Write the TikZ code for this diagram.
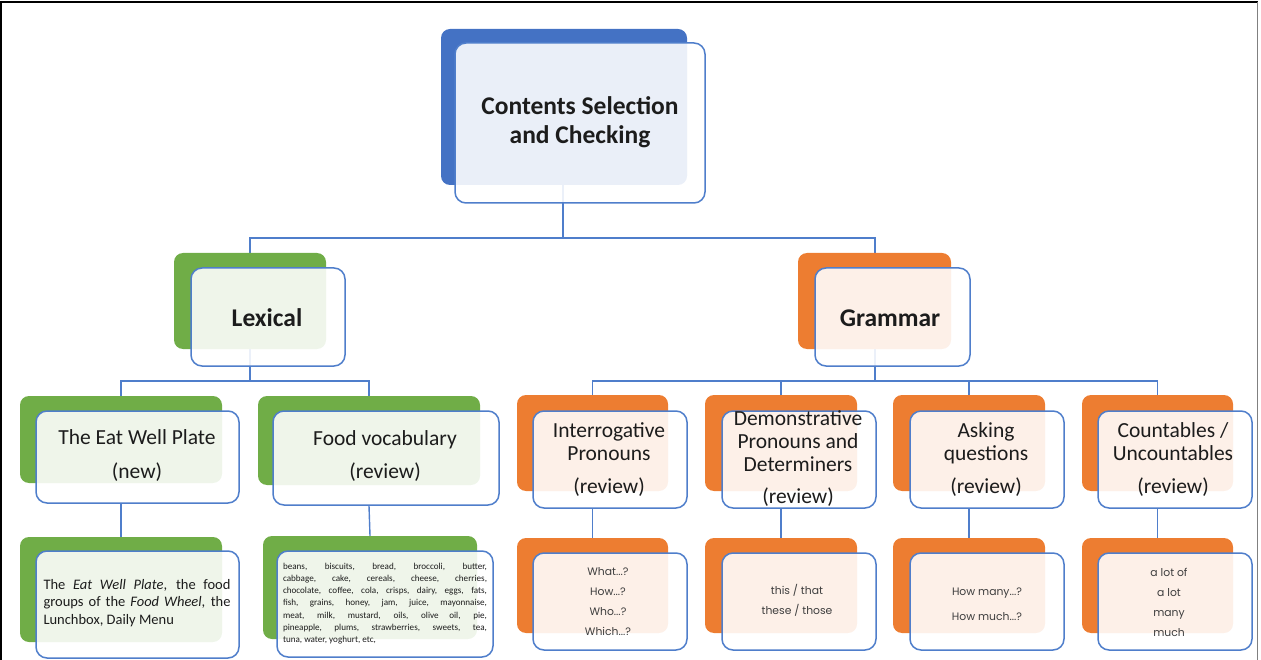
\documentclass[tikz,border=0pt]{standalone}
\usepackage{fontspec}
\setmainfont{Carlito}
\newfontfamily\geofont{Poppins}
\usetikzlibrary{fit}

\definecolor{cblue}{HTML}{4472C4}
\definecolor{cgreen}{HTML}{70AD47}
\definecolor{corange}{HTML}{ED7D31}
\definecolor{edge}{HTML}{4F7ECB}
\definecolor{ink}{HTML}{1C1C1C}
\definecolor{grayink}{HTML}{3E3E3E}

\tikzset{
  backbox/.style={rounded corners=9pt, inner sep=0pt, draw=none},
  frontbox/.style={rounded corners=11pt, inner sep=0pt, draw=edge, line width=1.5pt,
                   fill=white, fill opacity=0.89},
  wire/.style={draw=edge, line width=1.4pt},
  headtext/.style={font=\bfseries\fontsize{25.5}{29}\selectfont, text=ink, align=center, inner sep=0pt},
  midtext/.style={font=\fontsize{21.5}{23}\selectfont, text=ink, align=center, inner sep=0pt},
  smalltext/.style={font=\geofont\fontsize{10.8}{20}\selectfont, text=grayink, align=center, inner sep=0pt},
}

% #1 name, #2 colour of the back card, #3 back corners, #4 front corners
\newcommand\cardpair[4]{%
  \node[backbox, fill=#2, fit={#3}] (#1B) {};
  \node[frontbox, fit={#4}] (#1) {};
}

\begin{document}
\begin{tikzpicture}[x=1pt, y=-1pt]
\useasboundingbox (0,0) rectangle (1261,660);

% outer frame
\draw[black, line width=1.8pt] (1.2,670) -- (1.2,2) -- (1257.5,2);
\draw[gray, line width=1.4pt] (1257.5,2) -- (1257.5,670);

% bus junctions
\coordinate (j1) at (563,238);
\coordinate (j2) at (250,381);
\coordinate (j3) at (875,381);

% connectors (drawn first, the cards sit on top)
\draw[wire] (563,185) -- (j1) -| (250,253);
\draw[wire] (j1) -| (875,253);
\draw[wire] (250,349) -- (j2) -| (121,396);
\draw[wire] (j2) -| (369,396);
\draw[wire] (875,349) -- (j3) -| (592.5,395);
\draw[wire] (j3) -| (781,395);
\draw[wire] (j3) -| (969,395);
\draw[wire] (j3) -| (1157.5,395);

% root
\cardpair{root}{cblue}{(441,29) (687,185)}{(455,43) (705,203)}
% second level
\cardpair{lex}{cgreen}{(174,253) (326,349)}{(191,268) (345,366)}
\cardpair{gra}{corange}{(798,253) (951,349)}{(815,268) (970,366)}
% third level
\cardpair{ewp}{cgreen}{(20,396) (222,483)}{(36,411) (239,503)}
\cardpair{fv}{cgreen}{(258,396) (480,485)}{(273,411) (499,505)}
\cardpair{ip}{corange}{(517,395) (668,491)}{(533,411) (687,508)}
\cardpair{dp}{corange}{(705,395) (857,491)}{(722,411) (876,508)}
\cardpair{aq}{corange}{(893,395) (1045,491)}{(910,411) (1064,508)}
\cardpair{cu}{corange}{(1082,395) (1233,491)}{(1098,411) (1252,508)}
% fourth level
\cardpair{ewpd}{cgreen}{(20,537) (222,642)}{(36,551) (239,658)}
\cardpair{fvd}{cgreen}{(263,536) (477,639)}{(277,551) (493,657)}
\cardpair{ipd}{corange}{(517,538) (668,633)}{(533,553) (687,650)}
\cardpair{dpd}{corange}{(705,538) (857,633)}{(722,553) (876,650)}
\cardpair{aqd}{corange}{(893,538) (1045,633)}{(910,553) (1064,650)}
\cardpair{cud}{corange}{(1082,538) (1233,633)}{(1098,553) (1252,650)}

% level three to level four
\draw[wire] (ewp.south -| ewpB.south) -- (ewpdB.north);
\draw[wire] (fv.south -| fvB.south) -- (fvdB.north);
\draw[wire] (ip.south -| ipB.south) -- (ipdB.north);
\draw[wire] (dp.south -| dpB.south) -- (dpdB.north);
\draw[wire] (aq.south -| aqB.south) -- (aqdB.north);
\draw[wire] (cu.south -| cuB.south) -- (cudB.north);

% labels
\node[headtext] (rootT) at (580,122) {Contents Selection\\and Checking};
\node[headtext] (lexT) at (267,318) {Lexical};
\node[headtext] (graT) at (890,318) {Grammar};

\node[midtext] (ewpT) at (137,456) {The Eat Well Plate\\[11pt](new)};
\node[midtext] (fvT) at (385,456) {Food vocabulary\\[10pt](review)};
\node[midtext] (ipT) at (609,460) {Interrogative\\Pronouns\\[10pt](review)};
\node[midtext] (dpT) at (798,459) {Demonstrative\\Pronouns and\\Determiners\\[9pt](review)};
\node[midtext] (aqT) at (986,460) {Asking\\questions\\[10pt](review)};
\node[midtext] (cuT) at (1173,460) {Countables /\\Uncountables\\[10pt](review)};

\node[text width=187pt, align=justify, inner sep=0pt, text=ink,
      font=\fontsize{14.5}{17.5}\selectfont] (ewpdT) at (137,603)
  {The \textit{Eat Well Plate}, the food\linebreak
   groups of the \textit{Food Wheel}, the\linebreak
   Lunchbox, Daily Menu};

\node[text width=204pt, align=justify, inner sep=0pt, text=ink,
      font=\fontsize{9.1}{12.2}\selectfont] (fvdT) at (385,603.5)
  {beans, biscuits, bread, broccoli, butter,\linebreak
   cabbage, cake, cereals, cheese, cherries,\linebreak
   chocolate, coffee, cola, crisps, dairy, eggs, fats,\linebreak
   fish, grains, honey, jam, juice, mayonnaise,\linebreak
   meat, milk, mustard, oils, olive oil, pie,\linebreak
   pineapple, plums, strawberries, sweets, tea,\linebreak
   tuna, water, yoghurt, etc,};

\node[smalltext] (ipdT) at (608,602) {What...?\\How...?\\Who...?\\Which...?};
\node[smalltext] (dpdT) at (797,600.5) {this / that\\these / those};
\node[smalltext, font=\geofont\fontsize{10.8}{25}\selectfont] (aqdT) at (987,604.5) {How many...?\\How much...?};
\node[smalltext] (cudT) at (1169,602) {a lot of\\a lot\\many\\much};
\end{tikzpicture}
\end{document}
